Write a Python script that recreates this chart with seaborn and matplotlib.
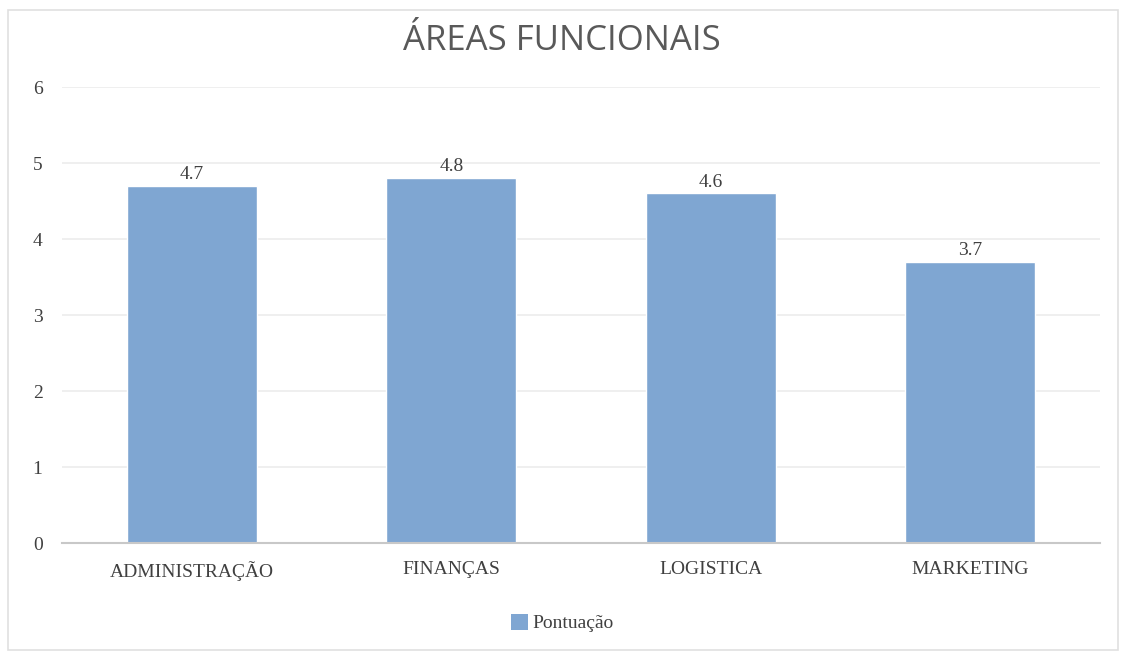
import matplotlib
matplotlib.use("Agg")
import matplotlib.pyplot as plt
import seaborn as sns
import pandas as pd
from matplotlib.patches import Rectangle, Patch

categories = ["ADMINISTRAÇÃO", "FINANÇAS", "LOGISTICA", "MARKETING"]
values = [4.7, 4.8, 4.6, 3.7]
value_labels = ["4.7", "4.8", "4.6", "3.7"]
yticks = [0, 1, 2, 3, 4, 5, 6]
series_name = "Pontuação"
title = "ÁREAS FUNCIONAIS"

sns.set_style("white")
plt.rcParams['font.family'] = ['Liberation Serif', 'DejaVu Sans']

df = pd.DataFrame({"cat": categories, "val": values})

fig = plt.figure(figsize=(11.24, 6.55), dpi=100)
ax = fig.add_axes([62/1124, 1-543/655, (1100-62)/1124, (543-87)/655])

bar_color = "#7FA6D2"
sns.barplot(data=df, x="cat", y="val", color=bar_color, width=0.5, ax=ax,
            saturation=1, errorbar=None)

ax.set_ylim(0, 6)
ax.set_xlim(-0.5, 3.5)
ax.set_yticks(yticks)
ax.set_yticklabels([str(t) for t in yticks])
ax.grid(axis="y", color="#ececec", linewidth=1.2)
ax.set_axisbelow(True)
for s in ["top", "right", "left"]:
    ax.spines[s].set_visible(False)
ax.spines["bottom"].set_color("#c8c8c8")
ax.spines["bottom"].set_linewidth(1.5)
ax.tick_params(axis="both", length=0, labelsize=14, colors="#404040")
ax.tick_params(axis="x", pad=13)
ax.tick_params(axis="y", pad=14)
ax.set_xlabel("")
ax.set_ylabel("")

for p, lab in zip(ax.patches, value_labels):
    ax.annotate(lab, (p.get_x() + p.get_width()/2, p.get_height()),
                xytext=(0, 2), textcoords="offset points",
                ha="center", va="bottom", fontsize=14, color="#404040")

fig.text(0.5, 1-41/655, title, ha="center", va="center", fontsize=25,
         color="#595959", family=["Open Sans", "DejaVu Sans"])

handle = Patch(facecolor=bar_color, edgecolor="none")
fig.legend([handle], [series_name], loc="center", bbox_to_anchor=(0.5, 1-623/655),
           frameon=False, fontsize=14, handlelength=0.9, handleheight=0.9,
           handletextpad=0.2, labelcolor="#404040")

fig.add_artist(Rectangle((8/1124, 1-650/655), (1118-8)/1124, (650-10)/655,
                         transform=fig.transFigure, fill=False,
                         edgecolor="#e0e0e0", linewidth=1.2))

fig.savefig("out.png", dpi=100)
